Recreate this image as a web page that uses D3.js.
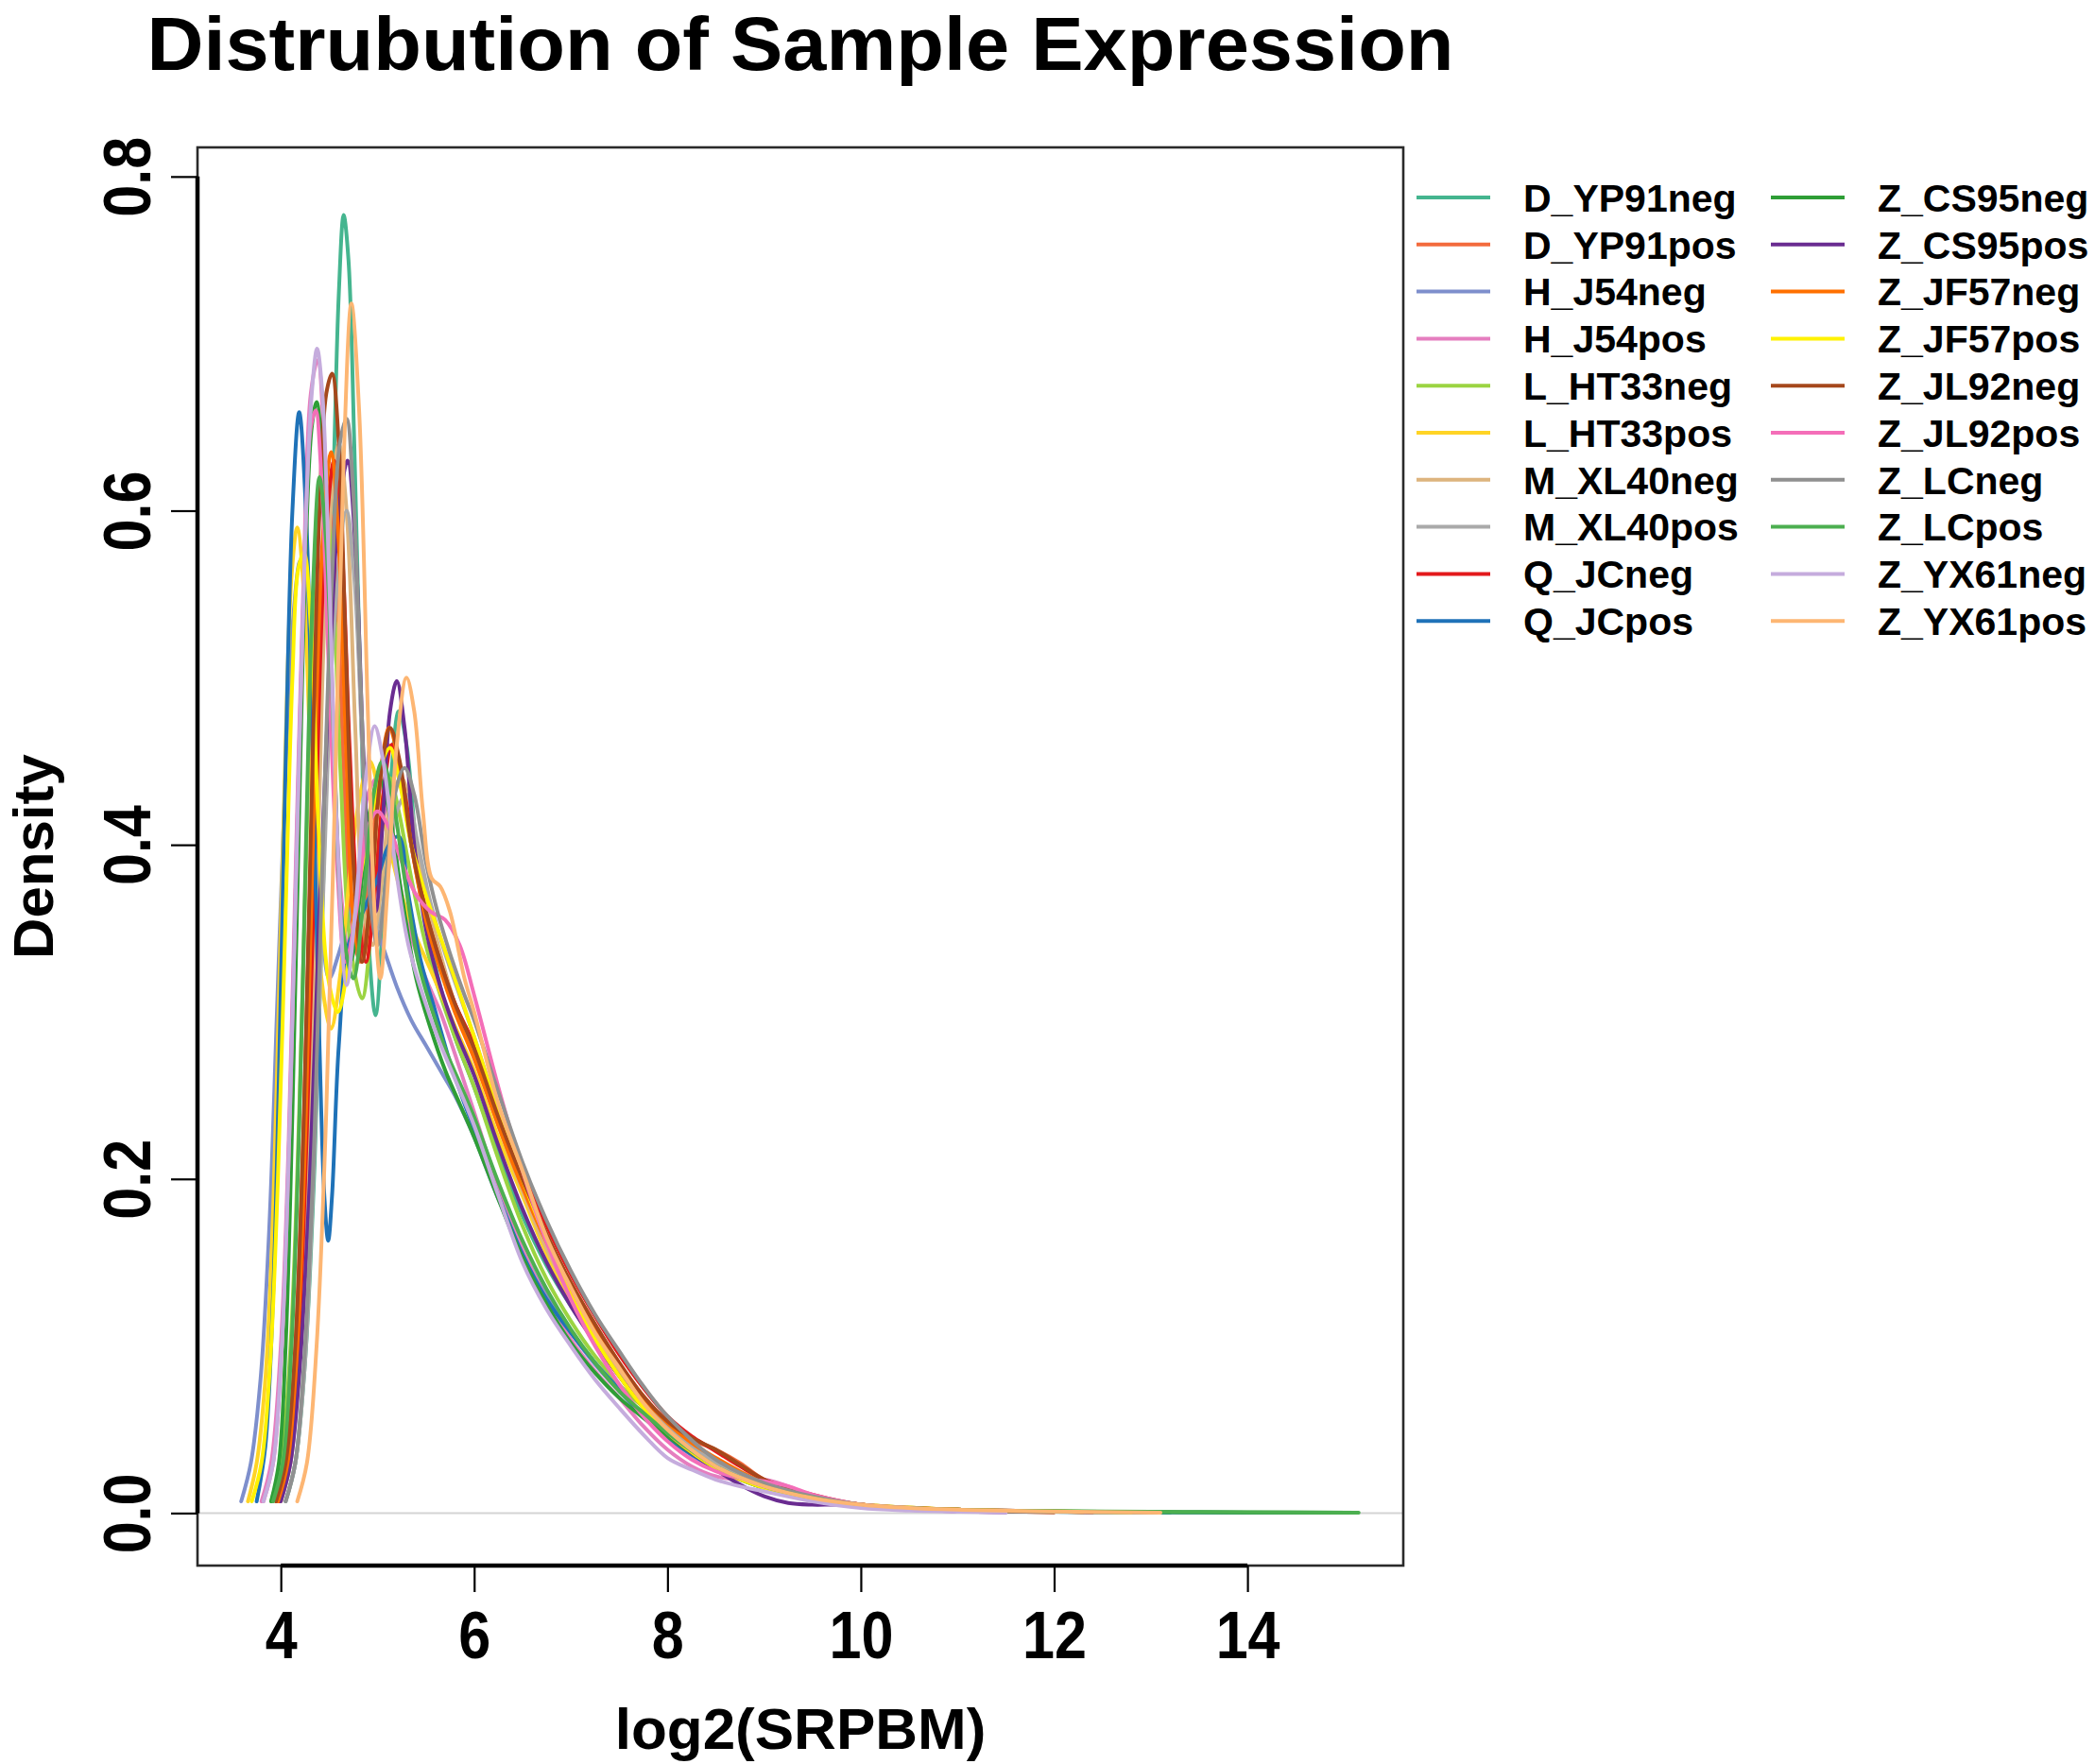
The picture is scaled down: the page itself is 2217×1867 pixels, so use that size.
<!DOCTYPE html>
<html>
<head>
<meta charset="utf-8">
<script src="https://cdn.jsdelivr.net/npm/d3@7"></script>
<style>
  html, body { margin: 0; padding: 0; background: #ffffff; }
  svg { display: block; }
  text { font-family: "Liberation Sans", Arial, Helvetica, sans-serif; font-weight: bold; fill: #000; }
</style>
</head>
<body>
<svg id="chart" width="2217" height="1867"></svg>
<script>
// ---------------- data ----------------
const chartTitle = "Distrubution of Sample Expression";
const xAxisTitle = "log2(SRPBM)";
const yAxisTitle = "Density";

const sampleNames = [
  "D_YP91neg", "D_YP91pos", "H_J54neg", "H_J54pos", "L_HT33neg",
  "L_HT33pos", "M_XL40neg", "M_XL40pos", "Q_JCneg", "Q_JCpos",
  "Z_CS95neg", "Z_CS95pos", "Z_JF57neg", "Z_JF57pos", "Z_JL92neg",
  "Z_JL92pos", "Z_LCneg", "Z_LCpos", "Z_YX61neg", "Z_YX61pos"
];
const sampleColors = [
  "#45B58F", "#F36B3D", "#7E8FCC", "#E57EBF", "#9BD442",
  "#FFD425", "#DDB47E", "#AAAAAA", "#E31A1C", "#1F72B8",
  "#2E9E36", "#6A2C91", "#FF7000", "#FFF200", "#A5481C",
  "#F46EB8", "#909090", "#4CAF50", "#C5ACDD", "#FDB673"
];

const xTickValues = [4, 6, 8, 10, 12, 14];
const xTickLabels = ["4", "6", "8", "10", "12", "14"];
const yTickValues = [0, 0.2, 0.4, 0.6, 0.8];
const yTickLabels = ["0.0", "0.2", "0.4", "0.6", "0.8"];
const xDataRange = [3.6, 15.15];
const yDataRange = [0, 0.786];

// density curves: [log2(SRPBM), density]
const D_YP91neg = [[4.05,.007],[4.15,.03],[4.25,.09],[4.35,.21],[4.45,.4],[4.55,.63],[4.6,.73],[4.65,.777],[4.7,.75],[4.76,.64],[4.83,.48],[4.9,.35],[4.98,.298],[5.06,.36],[5.14,.44],[5.22,.48],[5.3,.46],[5.4,.4],[5.52,.35],[5.65,.315],[5.8,.285],[6.0,.255],[6.25,.215],[6.5,.178],[6.75,.148],[7.0,.124],[7.25,.103],[7.5,.084],[7.75,.066],[8.0,.05],[8.25,.038],[8.5,.028],[8.75,.021],[9.0,.015],[9.5,.008],[10,.004],[10.5,.0025],[11,.0015],[12,.0008],[13.2,.0003]];
const D_YP91pos = [[3.95,.007],[4.05,.03],[4.15,.1],[4.24,.24],[4.32,.41],[4.4,.54],[4.5,.6],[4.58,.55],[4.66,.43],[4.74,.35],[4.82,.33],[4.9,.37],[5.0,.43],[5.1,.46],[5.2,.45],[5.32,.41],[5.45,.37],[5.6,.34],[5.8,.305],[6.0,.28],[6.25,.24],[6.5,.2],[6.75,.165],[7.0,.138],[7.25,.113],[7.5,.09],[7.75,.07],[8.0,.054],[8.25,.044],[8.5,.038],[8.75,.03],[9.0,.02],[9.5,.01],[10,.005],[10.5,.003],[11,.002],[11.5,.001],[12,.0005]];
const H_J54neg = [[3.59,.007],[3.69,.03],[3.79,.08],[3.88,.17],[3.96,.3],[4.04,.43],[4.12,.53],[4.2,.57],[4.27,.54],[4.34,.45],[4.42,.36],[4.5,.32],[4.6,.335],[4.7,.355],[4.8,.37],[4.92,.36],[5.05,.34],[5.2,.315],[5.35,.295],[5.5,.28],[5.65,.265],[5.8,.25],[6.0,.225],[6.25,.188],[6.5,.157],[6.75,.13],[7.0,.108],[7.25,.089],[7.5,.073],[7.75,.058],[8.0,.045],[8.5,.026],[9.0,.015],[9.5,.008],[10,.004],[11,.002],[12,.001],[12.6,.0005]];
const H_J54pos = [[3.8,.007],[3.9,.03],[4.0,.1],[4.08,.22],[4.16,.4],[4.24,.57],[4.31,.67],[4.38,.69],[4.45,.64],[4.53,.5],[4.61,.38],[4.7,.34],[4.8,.38],[4.9,.43],[5.0,.44],[5.1,.42],[5.22,.38],[5.35,.345],[5.5,.32],[5.65,.3],[5.8,.275],[6.0,.24],[6.25,.195],[6.5,.158],[6.75,.128],[7.0,.104],[7.25,.085],[7.5,.069],[7.75,.052],[8.0,.038],[8.25,.028],[8.5,.022],[8.75,.02],[9.0,.02],[9.25,.016],[9.5,.01],[10,.004],[10.5,.002],[11,.001],[11.5,.0005]];
const L_HT33neg = [[3.9,.007],[4.0,.03],[4.1,.1],[4.19,.24],[4.27,.41],[4.35,.56],[4.45,.62],[4.53,.57],[4.62,.44],[4.72,.34],[4.84,.308],[4.95,.36],[5.05,.42],[5.13,.44],[5.22,.42],[5.35,.38],[5.5,.34],[5.65,.31],[5.8,.285],[6.0,.255],[6.25,.212],[6.5,.172],[6.75,.14],[7.0,.115],[7.25,.094],[7.5,.077],[7.7,.066],[7.9,.058],[8.1,.046],[8.3,.036],[8.5,.028],[9.0,.015],[9.5,.008],[10,.004],[11,.002],[12,.001],[12.8,.0005]];
const L_HT33pos = [[3.66,.007],[3.75,.03],[3.84,.08],[3.92,.18],[3.99,.33],[4.05,.46],[4.11,.56],[4.17,.59],[4.24,.55],[4.32,.43],[4.42,.32],[4.52,.29],[4.61,.32],[4.71,.38],[4.82,.43],[4.92,.45],[5.02,.43],[5.12,.4],[5.25,.37],[5.4,.345],[5.55,.325],[5.7,.305],[5.85,.285],[6.0,.265],[6.25,.225],[6.5,.19],[6.75,.155],[7.0,.127],[7.25,.103],[7.5,.082],[7.75,.064],[8.0,.049],[8.5,.028],[9.0,.016],[9.5,.009],[10,.005],[11,.002],[12,.001],[12.3,.0005]];
const M_XL40neg = [[4.0,.007],[4.1,.03],[4.2,.1],[4.3,.23],[4.39,.41],[4.48,.57],[4.6,.64],[4.68,.6],[4.77,.47],[4.86,.36],[4.95,.34],[5.05,.38],[5.15,.43],[5.25,.44],[5.37,.41],[5.5,.37],[5.65,.335],[5.8,.305],[6.0,.275],[6.25,.232],[6.5,.193],[6.75,.158],[7.0,.13],[7.25,.106],[7.5,.085],[7.75,.067],[8.0,.051],[8.5,.029],[9.0,.016],[9.5,.009],[10,.005],[11,.002],[12,.001],[12.5,.0005]];
const M_XL40pos = [[4.05,.007],[4.15,.03],[4.25,.09],[4.35,.22],[4.45,.39],[4.55,.53],[4.68,.6],[4.76,.56],[4.85,.45],[4.93,.37],[5.0,.35],[5.1,.38],[5.2,.42],[5.3,.43],[5.42,.4],[5.55,.365],[5.7,.335],[5.85,.31],[6.0,.285],[6.25,.24],[6.5,.2],[6.75,.164],[7.0,.135],[7.25,.11],[7.5,.088],[7.75,.069],[8.0,.053],[8.5,.03],[9.0,.017],[9.5,.009],[10,.005],[11,.002],[12,.001],[12.6,.0005]];
const Q_JCneg = [[3.98,.007],[4.08,.03],[4.18,.1],[4.27,.23],[4.36,.41],[4.45,.57],[4.55,.63],[4.63,.58],[4.71,.46],[4.8,.36],[4.88,.33],[4.97,.37],[5.06,.43],[5.15,.46],[5.25,.44],[5.37,.4],[5.5,.36],[5.65,.33],[5.8,.305],[6.0,.28],[6.25,.24],[6.5,.205],[6.75,.172],[7.0,.143],[7.25,.118],[7.5,.095],[7.75,.075],[8.0,.058],[8.25,.046],[8.5,.037],[8.75,.028],[9.0,.02],[9.5,.011],[10,.005],[10.5,.003],[11,.002],[12,.001],[12.4,.0005]];
const Q_JCpos = [[3.75,.007],[3.84,.04],[3.92,.13],[3.98,.26],[4.05,.45],[4.12,.6],[4.19,.659],[4.26,.6],[4.33,.45],[4.4,.28],[4.45,.19],[4.49,.163],[4.53,.19],[4.6,.28],[4.7,.34],[4.85,.36],[5.0,.38],[5.12,.4],[5.22,.405],[5.32,.37],[5.45,.33],[5.6,.3],[5.75,.27],[5.9,.245],[6.0,.23],[6.25,.19],[6.5,.155],[6.75,.128],[7.0,.108],[7.25,.09],[7.5,.074],[7.75,.058],[8.0,.045],[8.5,.027],[9.0,.015],[9.5,.008],[10,.004],[11,.0015],[12,.0008],[13,.0005],[14,.0003],[15.1,.0002]];
const Z_CS95neg = [[3.9,.007],[3.98,.03],[4.05,.1],[4.12,.24],[4.19,.42],[4.26,.58],[4.32,.65],[4.37,.665],[4.43,.63],[4.5,.52],[4.58,.4],[4.66,.34],[4.72,.33],[4.82,.37],[4.92,.42],[5.02,.44],[5.12,.42],[5.25,.37],[5.4,.32],[5.55,.29],[5.7,.265],[5.85,.245],[6.0,.225],[6.25,.188],[6.5,.153],[6.75,.125],[7.0,.102],[7.25,.084],[7.5,.069],[7.75,.057],[8.0,.046],[8.5,.027],[9.0,.015],[9.5,.008],[10,.004],[11,.0018],[12,.001],[13,.0006],[14,.0004],[15.05,.0002]];
const Z_CS95pos = [[4.0,.007],[4.1,.03],[4.2,.09],[4.3,.2],[4.4,.36],[4.5,.5],[4.6,.6],[4.69,.63],[4.77,.58],[4.85,.46],[4.92,.38],[4.98,.36],[5.05,.41],[5.13,.48],[5.2,.498],[5.28,.47],[5.38,.4],[5.5,.35],[5.65,.315],[5.8,.29],[6.0,.262],[6.25,.22],[6.5,.182],[6.75,.15],[7.0,.124],[7.25,.102],[7.5,.082],[7.75,.063],[8.0,.048],[8.25,.036],[8.5,.026],[8.75,.017],[9.0,.01],[9.25,.006],[9.5,.005],[9.75,.005],[10,.004],[10.5,.002],[11,.001],[11.5,.0005]];
const Z_JF57neg = [[3.97,.007],[4.07,.03],[4.17,.1],[4.26,.24],[4.34,.42],[4.43,.58],[4.52,.635],[4.6,.58],[4.68,.45],[4.76,.35],[4.84,.33],[4.93,.37],[5.03,.44],[5.12,.47],[5.22,.45],[5.35,.4],[5.5,.355],[5.65,.325],[5.8,.3],[6.0,.272],[6.25,.232],[6.5,.195],[6.75,.162],[7.0,.134],[7.25,.11],[7.5,.088],[7.75,.069],[8.0,.054],[8.25,.042],[8.5,.033],[8.75,.025],[9.0,.018],[9.5,.01],[10,.005],[10.5,.003],[11,.002],[11.2,.001]];
const Z_JF57pos = [[3.7,.007],[3.8,.03],[3.89,.09],[3.97,.2],[4.05,.36],[4.12,.5],[4.18,.565],[4.24,.575],[4.31,.53],[4.39,.41],[4.49,.32],[4.59,.3],[4.7,.33],[4.82,.38],[4.95,.42],[5.05,.45],[5.13,.458],[5.22,.44],[5.35,.4],[5.5,.37],[5.65,.345],[5.8,.32],[6.0,.285],[6.25,.24],[6.5,.2],[6.75,.163],[7.0,.13],[7.25,.104],[7.5,.082],[7.75,.063],[8.0,.048],[8.5,.027],[9.0,.015],[9.5,.009],[10,.005],[11,.002],[12,.001],[12.8,.0005]];
const Z_JL92neg = [[3.95,.007],[4.05,.03],[4.15,.1],[4.24,.24],[4.32,.43],[4.4,.6],[4.47,.67],[4.53,.682],[4.6,.64],[4.67,.52],[4.75,.39],[4.84,.33],[4.93,.37],[5.03,.44],[5.13,.47],[5.23,.45],[5.35,.4],[5.5,.36],[5.65,.33],[5.8,.305],[6.0,.278],[6.25,.237],[6.5,.2],[6.75,.167],[7.0,.138],[7.25,.113],[7.5,.09],[7.75,.07],[8.0,.055],[8.25,.045],[8.5,.038],[8.75,.029],[9.0,.02],[9.5,.01],[10,.005],[10.5,.003],[11,.002],[11.5,.001],[12,.0005]];
const Z_JL92pos = [[3.82,.007],[3.92,.03],[4.01,.1],[4.09,.23],[4.17,.41],[4.25,.58],[4.31,.65],[4.36,.66],[4.42,.62],[4.5,.5],[4.58,.39],[4.67,.33],[4.78,.36],[4.9,.41],[5.0,.42],[5.12,.41],[5.25,.39],[5.4,.37],[5.55,.36],[5.7,.355],[5.85,.34],[6.0,.31],[6.25,.255],[6.5,.205],[6.75,.162],[7.0,.128],[7.25,.1],[7.5,.077],[7.75,.058],[8.0,.043],[8.25,.032],[8.5,.025],[8.75,.021],[9.0,.019],[9.25,.016],[9.5,.011],[10,.005],[10.5,.003],[11,.0015],[11.5,.0008]];
const Z_LCneg = [[4.05,.007],[4.15,.03],[4.25,.1],[4.35,.23],[4.44,.41],[4.53,.56],[4.61,.64],[4.68,.655],[4.75,.61],[4.83,.49],[4.92,.37],[5.0,.34],[5.09,.38],[5.18,.43],[5.28,.446],[5.38,.43],[5.5,.39],[5.62,.36],[5.75,.335],[5.9,.31],[6.0,.295],[6.25,.252],[6.5,.21],[6.75,.175],[7.0,.145],[7.25,.119],[7.5,.097],[7.75,.076],[8.0,.058],[8.5,.032],[9.0,.018],[9.5,.01],[10,.005],[10.5,.003],[11,.0015],[12,.0008],[13,.0004]];
const Z_LCpos = [[3.92,.007],[4.02,.03],[4.11,.1],[4.19,.23],[4.26,.4],[4.33,.55],[4.4,.62],[4.47,.58],[4.55,.46],[4.64,.35],[4.75,.32],[4.86,.37],[4.96,.43],[5.05,.45],[5.15,.43],[5.28,.38],[5.42,.33],[5.57,.3],[5.72,.275],[5.87,.255],[6.0,.237],[6.25,.198],[6.5,.163],[6.75,.134],[7.0,.11],[7.25,.09],[7.5,.073],[7.75,.06],[8.0,.048],[8.5,.028],[9.0,.016],[9.5,.009],[10,.0045],[11,.002],[12,.0012],[13,.0008],[14,.0005],[15.15,.0003]];
const Z_YX61neg = [[3.82,.007],[3.92,.03],[4.01,.1],[4.09,.23],[4.17,.41],[4.25,.58],[4.32,.67],[4.375,.697],[4.43,.67],[4.5,.56],[4.58,.41],[4.68,.316],[4.77,.36],[4.88,.44],[4.97,.471],[5.06,.45],[5.18,.39],[5.32,.34],[5.47,.31],[5.62,.285],[5.8,.26],[6.0,.232],[6.25,.19],[6.5,.15],[6.75,.122],[7.0,.1],[7.25,.08],[7.5,.063],[7.75,.047],[8.0,.033],[8.25,.026],[8.5,.02],[8.75,.016],[9.0,.013],[9.5,.007],[10,.003],[10.5,.0015],[11,.0008],[11.5,.0004]];
const Z_YX61pos = [[4.17,.007],[4.27,.03],[4.37,.1],[4.47,.24],[4.56,.43],[4.65,.63],[4.73,.724],[4.81,.66],[4.9,.48],[4.97,.36],[5.03,.32],[5.1,.37],[5.2,.46],[5.3,.5],[5.38,.48],[5.47,.42],[5.56,.38],[5.65,.375],[5.75,.36],[5.9,.32],[6.0,.3],[6.25,.245],[6.5,.205],[6.75,.165],[7.0,.135],[7.25,.108],[7.5,.087],[7.75,.066],[8.0,.05],[8.5,.028],[9.0,.016],[9.5,.009],[10,.005],[10.5,.003],[11,.002],[12,.001],[13.1,.0003]];

const densityCurves = [
  D_YP91neg, D_YP91pos, H_J54neg, H_J54pos, L_HT33neg,
  L_HT33pos, M_XL40neg, M_XL40pos, Q_JCneg, Q_JCpos,
  Z_CS95neg, Z_CS95pos, Z_JF57neg, Z_JF57pos, Z_JL92neg,
  Z_JL92pos, Z_LCneg, Z_LCpos, Z_YX61neg, Z_YX61pos
];

// ---------------- layout ----------------
const plot = { left: 209, right: 1485, top: 156, bottom: 1657 };
function extendRange(r) { const d = (r[1] - r[0]) * 0.04; return [r[0] - d, r[1] + d]; }

const x = d3.scaleLinear().domain(extendRange(xDataRange)).range([plot.left, plot.right]);
const y = d3.scaleLinear().domain(extendRange(yDataRange)).range([plot.bottom, plot.top]);

// narrow glyphs (condensed Helvetica look) while keeping the font size
function condense(sel, factor) {
  sel.each(function () {
    const len = this.getComputedTextLength();
    d3.select(this).attr("textLength", len * factor).attr("lengthAdjust", "spacingAndGlyphs");
  });
}

const svg = d3.select("#chart");
svg.append("rect").attr("width", 2217).attr("height", 1867).attr("fill", "#fff");

// zero line
svg.append("line")
  .attr("x1", plot.left).attr("x2", plot.right)
  .attr("y1", y(0)).attr("y2", y(0))
  .attr("stroke", "#d4d4d4").attr("stroke-width", 2);

// curves
const line = d3.line()
  .x(d => x(d[0])).y(d => y(d[1]))
  .curve(d3.curveCatmullRom.alpha(0.5));

svg.append("clipPath").attr("id", "plotclip")
  .append("rect").attr("x", plot.left).attr("y", plot.top)
  .attr("width", plot.right - plot.left).attr("height", plot.bottom - plot.top);

svg.append("g").attr("clip-path", "url(#plotclip)")
  .selectAll("path").data(densityCurves).join("path")
  .attr("d", d => line(d))
  .attr("fill", "none")
  .attr("stroke", (d, i) => sampleColors[i])
  .attr("stroke-width", 4)
  .attr("stroke-linejoin", "round")
  .attr("stroke-linecap", "round");

// box
svg.append("rect")
  .attr("x", plot.left).attr("y", plot.top)
  .attr("width", plot.right - plot.left).attr("height", plot.bottom - plot.top)
  .attr("fill", "none").attr("stroke", "#2a2a2a").attr("stroke-width", 2.6);

// x axis
const xAxis = d3.axisBottom(x).tickValues(xTickValues)
  .tickFormat((d, i) => xTickLabels[i]).tickSize(28).tickSizeOuter(0);
const gx = svg.append("g").attr("transform", `translate(0,${plot.bottom})`).call(xAxis);
gx.select(".domain").attr("d", `M${x(xTickValues[0])},0H${x(xTickValues[xTickValues.length - 1])}`)
  .attr("stroke", "#000").attr("stroke-width", 4.5);
gx.selectAll(".tick line").attr("stroke", "#000").attr("stroke-width", 2.2);
gx.selectAll(".tick text")
  .attr("font-size", 71).attr("font-family", "Liberation Sans, Arial, sans-serif")
  .attr("font-weight", "bold").attr("fill", "#000")
  .attr("dy", null).attr("y", 98);
condense(gx.selectAll(".tick text"), 0.86);

// y axis
const yAxis = d3.axisLeft(y).tickValues(yTickValues)
  .tickFormat((d, i) => yTickLabels[i]).tickSize(28).tickSizeOuter(0);
const gy = svg.append("g").attr("transform", `translate(${plot.left},0)`).call(yAxis);
gy.select(".domain").attr("d", `M0,${y(yTickValues[0])}V${y(yTickValues[yTickValues.length - 1])}`)
  .attr("stroke", "#000").attr("stroke-width", 4.5);
gy.selectAll(".tick line").attr("stroke", "#000").attr("stroke-width", 2.2);
gy.selectAll(".tick text")
  .attr("font-size", 71).attr("font-family", "Liberation Sans, Arial, sans-serif")
  .attr("font-weight", "bold").attr("fill", "#000")
  .attr("x", null).attr("dy", null)
  .attr("text-anchor", "middle")
  .attr("transform", "translate(-50,0) rotate(-90)");
condense(gy.selectAll(".tick text"), 0.86);

// titles
const titleText = svg.append("text").attr("x", (plot.left + plot.right) / 2).attr("y", 74)
  .attr("text-anchor", "middle").attr("font-size", 80).text(chartTitle);
titleText.attr("textLength", 1383).attr("lengthAdjust", "spacingAndGlyphs");

svg.append("text").attr("x", (plot.left + plot.right) / 2).attr("y", 1851)
  .attr("text-anchor", "middle").attr("font-size", 62).text(xAxisTitle);
svg.append("text")
  .attr("transform", `translate(56,${(plot.top + plot.bottom) / 2}) rotate(-90)`)
  .attr("text-anchor", "middle").attr("font-size", 60).text(yAxisTitle);

// legend
const legendCols = [{ lineX: 1499, textX: 1612 }, { lineX: 1874, textX: 1987 }];
const legendTop = 209, legendStep = 49.8, legendLineLen = 78;
const legend = svg.append("g");
sampleNames.forEach((name, i) => {
  const col = legendCols[Math.floor(i / 10)];
  const ly = legendTop + (i % 10) * legendStep;
  legend.append("line")
    .attr("x1", col.lineX).attr("x2", col.lineX + legendLineLen)
    .attr("y1", ly).attr("y2", ly)
    .attr("stroke", sampleColors[i]).attr("stroke-width", 4);
  legend.append("text").attr("x", col.textX).attr("y", ly)
    .attr("dy", "0.36em").attr("font-size", 41).text(name);
});
</script>
</body>
</html>
